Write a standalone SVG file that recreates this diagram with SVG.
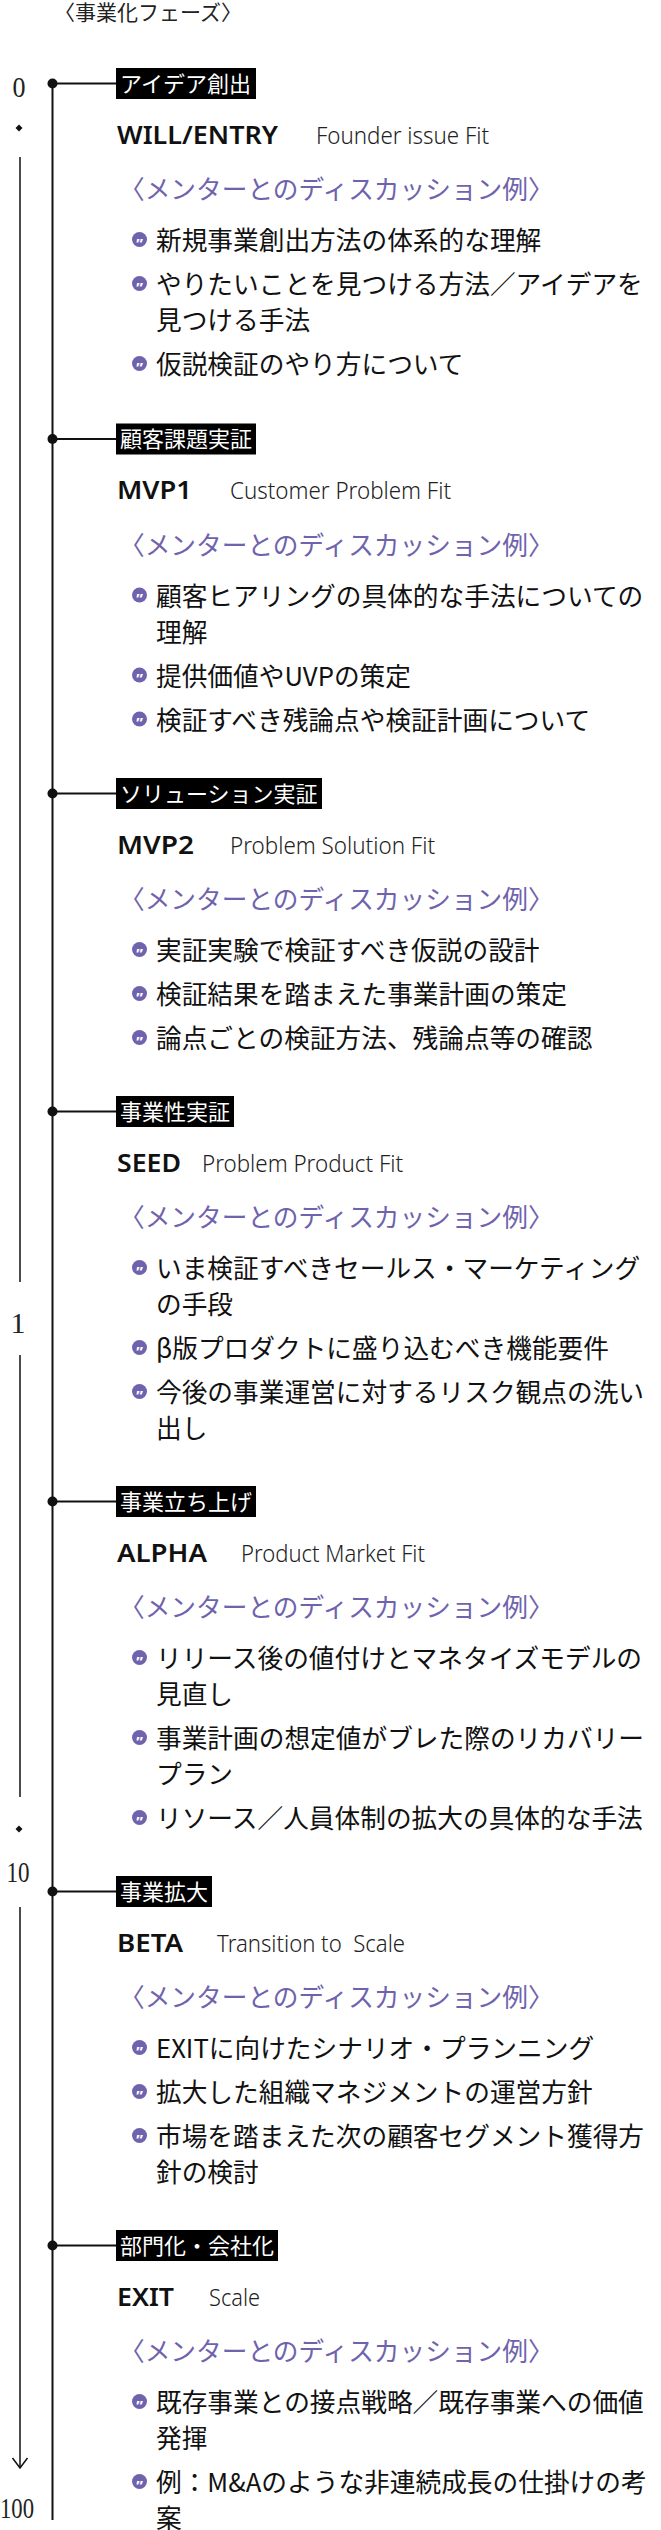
<svg xmlns="http://www.w3.org/2000/svg" width="661" height="2530" viewBox="0 0 661 2530">
<style>
.bg{fill:#fff}
.box{fill:#000}
.lbl{font-family:"Noto Sans CJK JP",sans-serif;font-size:22px;fill:#fff}
.ttl{font-family:"Noto Sans","Noto Sans CJK JP",sans-serif;font-weight:600;font-size:26px;fill:#111}
.sub{font-family:"Noto Sans",sans-serif;font-weight:300;font-size:23px;fill:#222;white-space:pre}
.mentor{font-family:"Noto Sans CJK JP",sans-serif;font-size:25.7px;fill:#6f63ad}
.item{font-family:"Noto Sans CJK JP",sans-serif;font-size:25.7px;fill:#111}
.axis{font-family:"Liberation Serif",serif;font-size:30px;fill:#222}
.head{font-family:"Noto Sans CJK JP",sans-serif;font-size:21px;fill:#222}
.ln{stroke:#111;stroke-width:2;fill:none}
.thin{stroke:#111;stroke-width:1.5;fill:none}
.dot{fill:#111}
</style>
<defs>
<g id="mk"><circle r="7.5" fill="#6f63ad"/><text x="0" y="9" text-anchor="middle" font-family="Noto Sans, sans-serif" font-weight="700" font-size="15" fill="#fff">”</text></g>
</defs>
<rect class="bg" x="0" y="0" width="661" height="2530"/>
<text class="head" x="54" y="19.5">〈事業化フェーズ〉</text>

<g id="scale">
<text class="axis" x="19" y="97" text-anchor="middle" textLength="13" lengthAdjust="spacingAndGlyphs">0</text>
<path class="dot" d="M19 124.5 L22.5 128 L19 131.5 L15.5 128 Z"/>
<text class="axis" x="18" y="1333" text-anchor="middle">1</text>
<path class="dot" d="M19 1825.5 L22.5 1829 L19 1832.5 L15.5 1829 Z"/>
<text class="axis" x="18" y="1882" text-anchor="middle" textLength="23" lengthAdjust="spacingAndGlyphs">10</text>
<text class="axis" x="17" y="2518" text-anchor="middle" textLength="34" lengthAdjust="spacingAndGlyphs">100</text>
</g>

<g id="connectors">
<line class="thin" x1="20" y1="157" x2="20" y2="1282"/>
<line class="thin" x1="20" y1="1355" x2="20" y2="1797"/>
<line class="thin" x1="20" y1="1907" x2="20" y2="2467"/>
<polyline class="thin" points="12.5,2458 20,2468 27.5,2458"/>
<line class="ln" x1="52.5" y1="83.5" x2="52.5" y2="2520"/>
<line class="ln" x1="52.5" y1="83.5" x2="116" y2="83.5"/>
<line class="ln" x1="52.5" y1="439" x2="116" y2="439"/>
<line class="ln" x1="52.5" y1="793.5" x2="116" y2="793.5"/>
<line class="ln" x1="52.5" y1="1111.5" x2="116" y2="1111.5"/>
<line class="ln" x1="52.5" y1="1501.5" x2="116" y2="1501.5"/>
<line class="ln" x1="52.5" y1="1891.5" x2="116" y2="1891.5"/>
<line class="ln" x1="52.5" y1="2245.5" x2="116" y2="2245.5"/>
<circle class="dot" cx="52.5" cy="83.5" r="5"/>
<circle class="dot" cx="52.5" cy="439" r="5"/>
<circle class="dot" cx="52.5" cy="793.5" r="5"/>
<circle class="dot" cx="52.5" cy="1111.5" r="5"/>
<circle class="dot" cx="52.5" cy="1501.5" r="5"/>
<circle class="dot" cx="52.5" cy="1891.5" r="5"/>
<circle class="dot" cx="52.5" cy="2245.5" r="5"/>
</g>

<g id="phase-idea">
<rect class="box" x="116" y="68" width="140" height="31"/>
<text class="lbl" x="120" y="91.5">アイデア創出</text>
<text class="ttl" x="117" y="143.5" textLength="161" lengthAdjust="spacingAndGlyphs">WILL/ENTRY</text>
<text class="sub" x="316" y="143.5" textLength="173" lengthAdjust="spacingAndGlyphs">Founder issue Fit</text>
<text class="mentor" x="119" y="199">〈メンターとのディスカッション例〉</text>
<use href="#mk" x="139.5" y="239.5"/>
<text class="item" x="156" y="250">新規事業創出方法の体系的な理解</text>
<use href="#mk" x="139.5" y="283.5"/>
<text class="item" x="156" y="294">やりたいことを見つける方法／アイデアを</text>
<text class="item" x="156" y="330">見つける手法</text>
<use href="#mk" x="139.5" y="363.5"/>
<text class="item" x="156" y="374">仮説検証のやり方について</text>
</g>

<g id="phase-mvp1">
<rect class="box" x="116" y="423.5" width="140" height="31"/>
<text class="lbl" x="120" y="447">顧客課題実証</text>
<text class="ttl" x="117" y="499" textLength="75" lengthAdjust="spacingAndGlyphs">MVP1</text>
<text class="sub" x="230" y="499" textLength="221" lengthAdjust="spacingAndGlyphs">Customer Problem Fit</text>
<text class="mentor" x="119" y="554.5">〈メンターとのディスカッション例〉</text>
<use href="#mk" x="139.5" y="595"/>
<text class="item" x="156" y="605.5">顧客ヒアリングの具体的な手法についての</text>
<text class="item" x="156" y="641.5">理解</text>
<use href="#mk" x="139.5" y="675"/>
<text class="item" x="156" y="685.5">提供価値やUVPの策定</text>
<use href="#mk" x="139.5" y="719"/>
<text class="item" x="156" y="729.5">検証すべき残論点や検証計画について</text>
</g>

<g id="phase-mvp2">
<rect class="box" x="116" y="778" width="206" height="31"/>
<text class="lbl" x="120" y="801.5">ソリューション実証</text>
<text class="ttl" x="117" y="853.5" textLength="77" lengthAdjust="spacingAndGlyphs">MVP2</text>
<text class="sub" x="230" y="853.5" textLength="205" lengthAdjust="spacingAndGlyphs">Problem Solution Fit</text>
<text class="mentor" x="119" y="909">〈メンターとのディスカッション例〉</text>
<use href="#mk" x="139.5" y="949.5"/>
<text class="item" x="156" y="960">実証実験で検証すべき仮説の設計</text>
<use href="#mk" x="139.5" y="993.5"/>
<text class="item" x="156" y="1004">検証結果を踏まえた事業計画の策定</text>
<use href="#mk" x="139.5" y="1037.5"/>
<text class="item" x="156" y="1048">論点ごとの検証方法、残論点等の確認</text>
</g>

<g id="phase-seed">
<rect class="box" x="116" y="1096" width="118" height="31"/>
<text class="lbl" x="120" y="1119.5">事業性実証</text>
<text class="ttl" x="117" y="1171.5" textLength="64" lengthAdjust="spacingAndGlyphs">SEED</text>
<text class="sub" x="202" y="1171.5" textLength="201" lengthAdjust="spacingAndGlyphs">Problem Product Fit</text>
<text class="mentor" x="119" y="1227">〈メンターとのディスカッション例〉</text>
<use href="#mk" x="139.5" y="1267.5"/>
<text class="item" x="156" y="1278">いま検証すべきセールス・マーケティング</text>
<text class="item" x="156" y="1314">の手段</text>
<use href="#mk" x="139.5" y="1347.5"/>
<text class="item" x="156" y="1358">β版プロダクトに盛り込むべき機能要件</text>
<use href="#mk" x="139.5" y="1391.5"/>
<text class="item" x="156" y="1402">今後の事業運営に対するリスク観点の洗い</text>
<text class="item" x="156" y="1438">出し</text>
</g>

<g id="phase-alpha">
<rect class="box" x="116" y="1486" width="140" height="31"/>
<text class="lbl" x="120" y="1509.5">事業立ち上げ</text>
<text class="ttl" x="117" y="1561.5" textLength="90" lengthAdjust="spacingAndGlyphs">ALPHA</text>
<text class="sub" x="241" y="1561.5" textLength="184" lengthAdjust="spacingAndGlyphs">Product Market Fit</text>
<text class="mentor" x="119" y="1617">〈メンターとのディスカッション例〉</text>
<use href="#mk" x="139.5" y="1657.5"/>
<text class="item" x="156" y="1668">リリース後の値付けとマネタイズモデルの</text>
<text class="item" x="156" y="1704">見直し</text>
<use href="#mk" x="139.5" y="1737.5"/>
<text class="item" x="156" y="1748">事業計画の想定値がブレた際のリカバリー</text>
<text class="item" x="156" y="1784">プラン</text>
<use href="#mk" x="139.5" y="1817.5"/>
<text class="item" x="156" y="1828">リソース／人員体制の拡大の具体的な手法</text>
</g>

<g id="phase-beta">
<rect class="box" x="116" y="1876" width="96" height="31"/>
<text class="lbl" x="120" y="1899.5">事業拡大</text>
<text class="ttl" x="117" y="1951.5" textLength="66" lengthAdjust="spacingAndGlyphs">BETA</text>
<text class="sub" x="217" y="1951.5" textLength="188" lengthAdjust="spacingAndGlyphs" xml:space="preserve">Transition to  Scale</text>
<text class="mentor" x="119" y="2007">〈メンターとのディスカッション例〉</text>
<use href="#mk" x="139.5" y="2047.5"/>
<text class="item" x="156" y="2058">EXITに向けたシナリオ・プランニング</text>
<use href="#mk" x="139.5" y="2091.5"/>
<text class="item" x="156" y="2102">拡大した組織マネジメントの運営方針</text>
<use href="#mk" x="139.5" y="2135.5"/>
<text class="item" x="156" y="2146">市場を踏まえた次の顧客セグメント獲得方</text>
<text class="item" x="156" y="2182">針の検討</text>
</g>

<g id="phase-exit">
<rect class="box" x="116" y="2230" width="162" height="31"/>
<text class="lbl" x="120" y="2253.5">部門化・会社化</text>
<text class="ttl" x="117" y="2305.5" textLength="57" lengthAdjust="spacingAndGlyphs">EXIT</text>
<text class="sub" x="209" y="2305.5" textLength="51" lengthAdjust="spacingAndGlyphs">Scale</text>
<text class="mentor" x="119" y="2361">〈メンターとのディスカッション例〉</text>
<use href="#mk" x="139.5" y="2401.5"/>
<text class="item" x="156" y="2412">既存事業との接点戦略／既存事業への価値</text>
<text class="item" x="156" y="2448">発揮</text>
<use href="#mk" x="139.5" y="2481.5"/>
<text class="item" x="156" y="2492">例：M&amp;Aのような非連続成長の仕掛けの考</text>
<text class="item" x="156" y="2528">案</text>
</g>
</svg>
